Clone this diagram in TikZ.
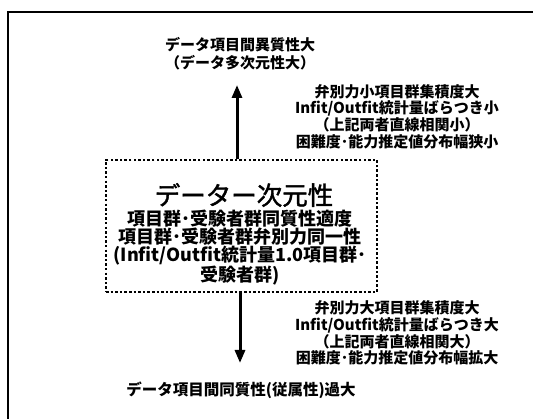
\documentclass[tikz,border=0pt]{standalone}
\usepackage{fontspec}
\setmainfont{Noto Sans CJK JP}
\newfontfamily\ttlfont{Noto Sans CJK JP}[FakeBold=1.6]
\usetikzlibrary{arrows.meta}
\begin{document}
\begin{tikzpicture}[x=1pt,y=-1pt,
  lbl/.style={font=\bfseries\fontsize{15}{18}\selectfont, align=center, inner sep=0pt},
  side/.style={font=\bfseries\fontsize{15}{16.7}\selectfont, align=center, inner sep=0pt},
  boxlines/.style={font=\bfseries\fontsize{18}{17}\selectfont, align=center, inner sep=0pt},
  title/.style={font=\ttlfont\fontsize{25.5}{27}\selectfont, inner sep=0pt},
  dotbox/.style={draw, line width=2.6pt, dash pattern=on 2.5pt off 2.1pt, minimum width=271pt, minimum height=132pt, inner sep=0pt},
  arr/.style={line width=3pt, -{Triangle[length=13pt,width=10pt]}}
]
\useasboundingbox (0,0) rectangle (533,419);
\draw[line width=2pt] (8,419) -- (8,12) -- (533,12);

\node[dotbox] (box) at (241.5,226) {};
\node[title] (ttl) at (244,195) {データー次元性};
\node[boxlines] (sub) at (240,247.5) {項目群･受験者群同質性適度\\項目群･受験者群弁別力同一性\\(Infit/Outfit統計量1.0項目群･\\受験者群)};

\node[lbl] (top) at (240,54) {データ項目間異質性大\\（データ多次元性大）};
\node[side] (rtop) at (397,116.5) {弁別力小項目群集積度大\\Infit/Outfit統計量ばらつき小\\（上記両者直線相関小）\\困難度･能力推定値分布幅狭小};
\node[side] (rbot) at (397,333) {弁別力大項目群集積度大\\Infit/Outfit統計量ばらつき大\\（上記両者直線相関大）\\困難度･能力推定値分布幅拡大};
\node[lbl, font=\bfseries\fontsize{15.5}{18}\selectfont] (bot) at (241,390) {データ項目間同質性(従属性)過大};

\coordinate (uptip) at (237,85);
\coordinate (dntip) at (240,363);
\draw[arr] (uptip |- box.north) -- (uptip);
\draw[arr] (dntip |- box.south) -- (dntip);
\end{tikzpicture}
\end{document}
